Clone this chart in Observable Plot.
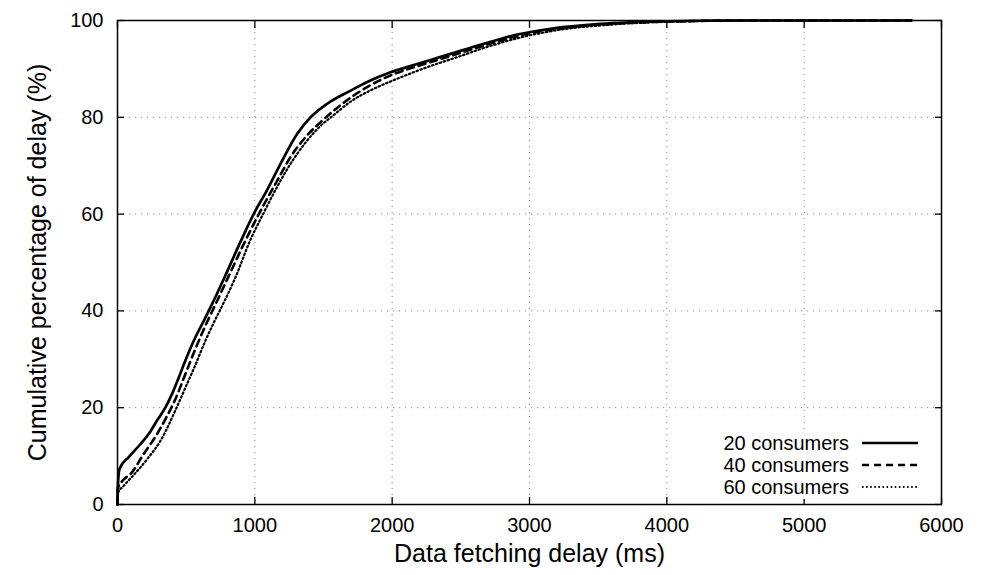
<!DOCTYPE html>
<html><head><meta charset="utf-8">
<script src="https://cdn.jsdelivr.net/npm/d3@7"></script>
<script src="https://cdn.jsdelivr.net/npm/@observablehq/plot@0.6"></script>
<style>body{margin:0;background:#fff}#chart{width:982px;height:575px}</style>
</head><body><div id="chart"></div>
<script>
const seriesNames = ["20 consumers", "40 consumers", "60 consumers"];
const delay20 = [0, 5, 15, 82, 168, 228, 289, 350, 398, 447, 495, 568, 629, 690, 774, 896, 993, 1090, 1187, 1309, 1406, 1527, 1697, 1818, 1988, 2183, 2425, 2668, 2911, 3154, 3518, 4000, 4500, 5780];
const pct20   = [0, 5, 7.4, 9.8, 12.5, 14.6, 17.4, 20.1, 22.9, 26.3, 29.8, 34.6, 38, 41.5, 46.6, 54.3, 60.1, 65, 70.4, 76.6, 80, 82.8, 85.5, 87.3, 89.3, 91, 93.1, 95.2, 97.1, 98.3, 99.3, 99.85, 100, 100];
const delay40 = [0, 0, 40, 95, 192, 289, 350, 422, 495, 568, 641, 726, 810, 931, 1029, 1163, 1260, 1369, 1491, 1610, 1720, 1840, 2000, 2200, 2440, 2690, 2930, 3180, 3550, 4050, 4600, 5780];
const pct40   = [0, 3.2, 5, 6.3, 10.5, 14.6, 17.7, 21.8, 27, 32.2, 37, 42.1, 47.2, 54.5, 60, 66.9, 71.8, 75.9, 79.3, 82.2, 84.5, 86.6, 88.8, 90.7, 92.8, 95, 96.9, 98.2, 99.2, 99.8, 100, 100];
const delay60 = [0, 0, 50, 130, 220, 320, 430, 500, 570, 635, 700, 770, 860, 965, 1060, 1160, 1260, 1370, 1470, 1580, 1700, 1860, 2040, 2240, 2470, 2710, 2950, 3200, 3570, 4100, 4700, 5780];
const pct60   = [0, 2.2, 4, 6.5, 9.5, 13.5, 20, 24.5, 29, 33.5, 37.5, 41.5, 47, 54.5, 60, 65.5, 70.4, 74.8, 78, 80.6, 83.3, 85.8, 88, 90.2, 92.4, 94.7, 96.6, 98, 99.1, 99.8, 100, 100];
const xTicks = [0, 1000, 2000, 3000, 4000, 5000, 6000];
const yTicks = [0, 20, 40, 60, 80, 100];
const xLabel = "Data fetching delay (ms)";
const yLabel = "Cumulative percentage of delay (%)";

const toRows = (xs, ys, name) => xs.map((d, i) => ({delay: d, pct: ys[i], series: name}));
const s20 = toRows(delay20, pct20, seriesNames[0]);
const s40 = toRows(delay40, pct40, seriesNames[1]);
const s60 = toRows(delay60, pct60, seriesNames[2]);

const lineStyles = [
  {strokeWidth: 2.7, strokeDasharray: null},
  {strokeWidth: 2.6, strokeDasharray: "7,5"},
  {strokeWidth: 2.2, strokeDasharray: "1.5,2.6"}
];

const font = "'Liberation Sans', Arial, Helvetica, sans-serif";
const plot = Plot.plot({
  width: 982, height: 575,
  marginLeft: 117, marginRight: 41, marginTop: 20, marginBottom: 71,
  style: {fontFamily: font, fontSize: "20px", color: "black", background: "white"},
  x: {domain: [0, 6000]},
  y: {domain: [0, 100]},
  marks: [
    Plot.gridX(xTicks, {stroke: "#8a8a8a", strokeOpacity: 1, strokeWidth: 1, strokeDasharray: "1.2,4.8"}),
    Plot.gridY(yTicks, {stroke: "#8a8a8a", strokeOpacity: 1, strokeWidth: 1, strokeDasharray: "1.2,4.8"}),
    Plot.line(s60, {x: "delay", y: "pct", stroke: "black", curve: "monotone-x", ...lineStyles[2]}),
    Plot.line(s40, {x: "delay", y: "pct", stroke: "black", curve: "monotone-x", ...lineStyles[1]}),
    Plot.line(s20, {x: "delay", y: "pct", stroke: "black", curve: "monotone-x", ...lineStyles[0]}),
    Plot.axisX(xTicks, {anchor: "bottom", tickSize: 7, dy: -7, tickFormat: () => "", label: null, strokeWidth: 1.3}),
    Plot.axisX(xTicks, {anchor: "top", tickSize: 7, dy: 7, tickFormat: () => "", label: null, strokeWidth: 1.3}),
    Plot.axisY(yTicks, {anchor: "left", tickSize: 7, dx: 7, tickFormat: () => "", label: null, strokeWidth: 1.3}),
    Plot.axisY(yTicks, {anchor: "right", tickSize: 7, dx: -7, tickFormat: () => "", label: null, strokeWidth: 1.3}),
    Plot.axisX(xTicks, {anchor: "bottom", tickSize: 0, tickPadding: 13, label: null, fontSize: 20, tickFormat: d => String(d)}),
    Plot.axisY(yTicks, {anchor: "left", tickSize: 0, tickPadding: 14, label: null, fontSize: 20, tickFormat: d => String(d)}),
    Plot.frame({stroke: "black", strokeWidth: 1.5}),
    Plot.text([xLabel], {frameAnchor: "bottom", dy: 57, fontSize: 25, text: d => d}),
    Plot.text([yLabel], {frameAnchor: "left", textAnchor: "middle", dx: -80, rotate: -90, fontSize: 25, text: d => d})
  ]
});

// Legend (inside plot, bottom-right)
const svg = d3.select(plot);
const lg = svg.append("g").attr("font-family", font).attr("font-size", 20);
lg.append("rect").attr("x", 704).attr("y", 431).attr("width", 224).attr("height", 68).attr("fill", "white");
seriesNames.forEach((name, i) => {
  const cy = 443 + i * 22;
  lg.append("text").attr("x", 849).attr("y", cy).attr("dy", "0.35em").attr("text-anchor", "end").attr("fill", "black").text(name);
  lg.append("line").attr("x1", 862).attr("x2", 918).attr("y1", cy).attr("y2", cy)
    .attr("stroke", "black").attr("stroke-width", lineStyles[i].strokeWidth)
    .attr("stroke-dasharray", lineStyles[i].strokeDasharray);
});

document.getElementById("chart").appendChild(plot);
</script>
</body></html>
